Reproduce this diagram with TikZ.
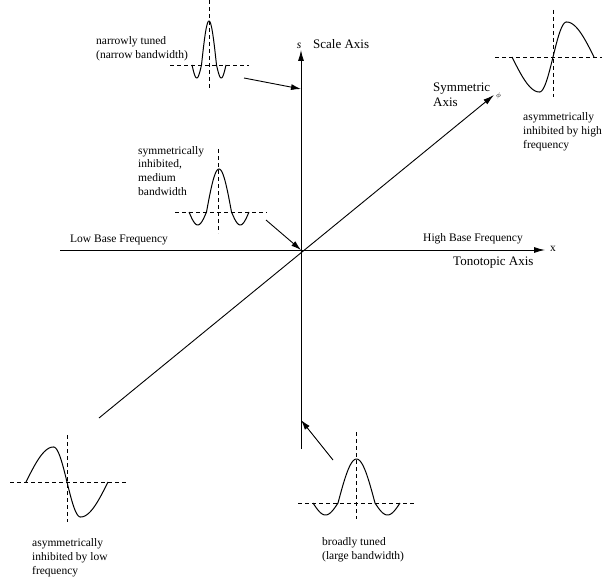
\documentclass[tikz,border=0pt]{standalone}
\usepackage{fontspec}
\setmainfont{Liberation Serif}
\usepackage{tikz}
\usetikzlibrary{arrows.meta,positioning}
\tikzstyle{axisline}=[line width=0.9pt]
\tikzstyle{pointer}=[line width=0.9pt,-{Latex[length=10pt,width=6pt]}]
\tikzstyle{guide}=[line width=0.8pt,dash pattern=on 4pt off 3pt]
\tikzstyle{wave}=[line width=1pt,smooth,samples=40]
\tikzstyle{caption}=[font=\fontsize{11.5}{14}\selectfont,align=left,inner sep=0pt]
\tikzstyle{axisname}=[font=\fontsize{13}{15}\selectfont,align=left,inner sep=0pt]

\begin{document}
\begin{tikzpicture}[x=1pt,y=-1pt]
\useasboundingbox (0,0) rectangle (605,583);
% axes
\coordinate (origin) at (301,250);
\coordinate (xlow) at (60,250);
\coordinate (xhigh) at (545,250);
\coordinate (sbot) at (301,449);
\coordinate (stop) at (301,50);
\coordinate (plow) at (99,418);
\coordinate (phigh) at (494,95);
\draw[axisline,-{Latex[length=11pt,width=6pt]}] (xlow) -- (xhigh);
\draw[axisline,-{Latex[length=11pt,width=6pt]}] (sbot) -- (stop);
\draw[axisline,-{Latex[length=11pt,width=6pt]}] (plow) -- (phigh);
\node[caption, anchor=west] (xsym) at (550,249) {x};
\node[caption, anchor=south] (ssym) at (299,49) {\textit{s}};
\node[inner sep=0pt, anchor=west] (psym) at (496,96) {\fontsize{7.5}{8}\selectfont$\phi$};
\node[axisname, anchor=west] (scaleaxis) at (313,44) {Scale Axis};
\node[axisname, anchor=west, font=\fontsize{13}{14.5}\selectfont] (symaxis) at (433,95) {Symmetric\\Axis};
\node[caption, anchor=west] (highbase) at (423,239) {High Base Frequency};
\node[caption, anchor=west] (lowbase) at (70,240) {Low Base Frequency};
\node[axisname, anchor=west] (tonoaxis) at (453,263) {Tonotopic Axis};
% narrowly tuned
\draw[guide] (209,0) -- (209,90);
\draw[guide] (170,65) -- (249,65);
\draw[wave, shift={(209,65)}] plot[domain=-17:-7.5] (\x,{13*sin(180*(-\x-7.5)/9.5)})
  -- plot[domain=-7.5:7.5] (\x,{-44*cos(90*\x/7.5)})
  -- plot[domain=7.5:17] (\x,{13*sin(180*(\x-7.5)/9.5)});
\node[caption, anchor=west] (narrow) at (96,49) {narrowly tuned\\(narrow bandwidth)};
\coordinate (narrowfrom) at (244,78);
\coordinate (narrowto) at (301,89);
\draw[pointer] (narrowfrom) -- (narrowto);
% medium bandwidth
\draw[guide] (218,149) -- (218,233);
\draw[guide] (175,212) -- (267,212);
\draw[wave, shift={(219,212)}] plot[domain=-30:-12.5] (\x,{13*sin(180*(-\x-12.5)/17.5)})
  -- plot[domain=-12.5:12.5] (\x,{-43*cos(90*\x/12.5)})
  -- plot[domain=12.5:30] (\x,{13*sin(180*(\x-12.5)/17.5)});
\node[caption, anchor=north west, font=\fontsize{11.5}{13.7}\selectfont] (medium) at (138,146) {symmetrically\\inhibited,\\medium\\bandwidth};
\coordinate (mediumfrom) at (266,220);
\draw[pointer] (mediumfrom) -- (origin);
% broadly tuned
\draw[guide] (356,432) -- (356,519);
\draw[guide] (298,503) -- (415,503);
\draw[wave, shift={(356.5,503)}] plot[domain=-43.5:-18.5] (\x,{12*sin(180*(-\x-18.5)/25)})
  -- plot[domain=-18.5:18.5] (\x,{-44*cos(90*\x/18.5)})
  -- plot[domain=18.5:43.5] (\x,{12*sin(180*(\x-18.5)/25)});
\node[caption, anchor=west] (broad) at (322,550) {broadly tuned\\(large bandwidth)};
\coordinate (broadfrom) at (333,460);
\coordinate (broadto) at (301,420);
\draw[pointer] (broadfrom) -- (broadto);
% asymmetric, high frequency side
\draw[guide] (553,10) -- (553,97);
\draw[guide] (495,57) -- (602,57);
\draw[wave, shift={(553,57)}] plot[domain=-41:-13.5] (\x,{35*cos(90*(-\x-13.5)/27.5)})
  -- plot[domain=-13.5:13.5] (\x,{-35*sin(90*\x/13.5)})
  -- plot[domain=13.5:41] (\x,{-35*cos(90*(\x-13.5)/27.5)});
\node[caption, anchor=north west] (asymhigh) at (523,112) {asymmetrically\\inhibited by high\\frequency};
% asymmetric, low frequency side
\draw[guide] (67,435) -- (67,522);
\draw[guide] (10,482) -- (127,482);
\draw[wave, shift={(67,482)}] plot[domain=-41:-13.5] (\x,{-35*cos(90*(-\x-13.5)/27.5)})
  -- plot[domain=-13.5:13.5] (\x,{35*sin(90*\x/13.5)})
  -- plot[domain=13.5:41] (\x,{35*cos(90*(\x-13.5)/27.5)});
\node[caption, anchor=north west] (asymlow) at (32,538) {asymmetrically\\inhibited by low\\frequency};
\end{tikzpicture}
\end{document}
